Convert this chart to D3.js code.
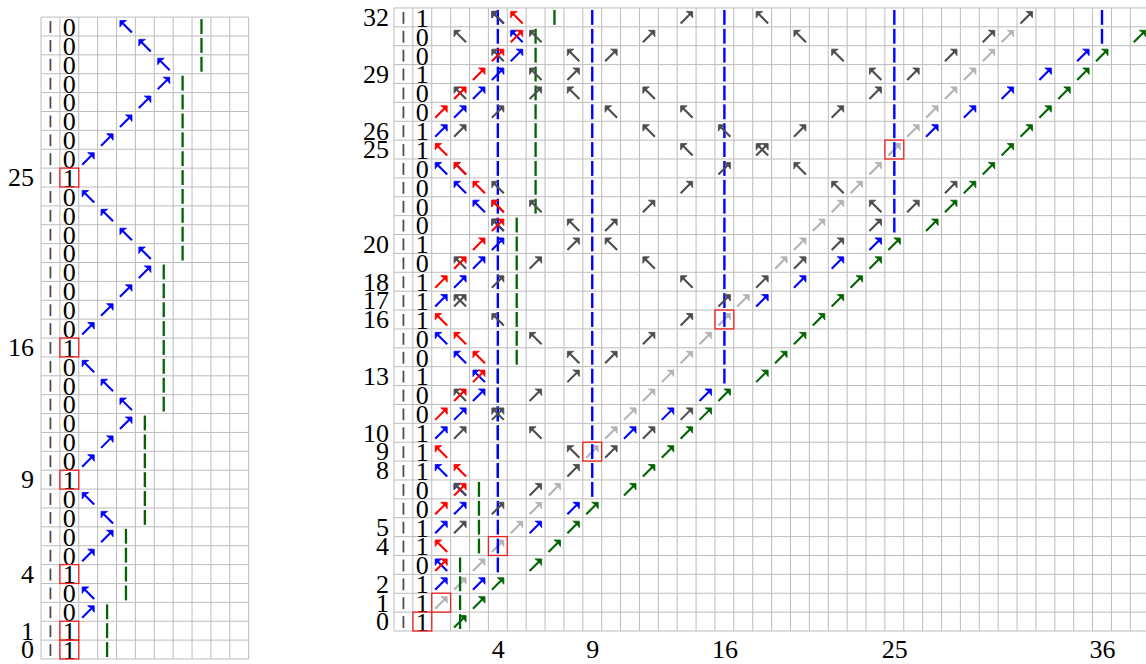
<!DOCTYPE html>
<html><head><meta charset="utf-8">
<script src="https://cdn.jsdelivr.net/npm/d3@7"></script>
<style>
html,body{margin:0;padding:0;background:#fff;overflow:hidden}
svg text{font-family:"Liberation Serif","DejaVu Serif",serif;}
</style>
</head><body><svg id="chart" width="1146" height="664"></svg>
<script>
// ---------------- DATA ----------------
// Left panel (rows 0..33), digit column = 0, marker column = -1
const leftDigits = [1,1,0,0,1, 0,0,0,0,1, 0,0,0,0,0, 0,1,0,0,0, 0,0,0,0,0, 1,0,0,0,0, 0,0,0,0];
const leftRowLabels = [0, 1, 4, 9, 16, 25];
const leftBoxes = [[0,0],[1,0],[4,0],[9,0],[16,0],[25,0]];
const leftArrows = [
  [2,1,"ur","b"],[3,1,"ul","b"],[5,1,"ur","b"],[6,2,"ur","b"],[7,2,"ul","b"],[8,1,"ul","b"],
  [10,1,"ur","b"],[11,2,"ur","b"],[12,3,"ur","b"],[13,3,"ul","b"],[14,2,"ul","b"],[15,1,"ul","b"],
  [17,1,"ur","b"],[18,2,"ur","b"],[19,3,"ur","b"],[20,4,"ur","b"],[21,4,"ul","b"],[22,3,"ul","b"],
  [23,2,"ul","b"],[24,1,"ul","b"],[26,1,"ur","b"],[27,2,"ur","b"],[28,3,"ur","b"],[29,4,"ur","b"],
  [30,5,"ur","b"],[31,5,"ul","b"],[32,4,"ul","b"],[33,3,"ul","b"]
];
const leftGreenRuns = [[2,0,2],[3,3,6],[4,7,12],[5,13,20],[6,21,30],[7,31,33]]; // [col, fromRow, toRow]
const leftBlueRuns = [];

// Right panel (rows 0..32)
const rightDigits = [1,1,1,0,1,1,0,0,1,1,1,0,0,1,0,0,1,1,1,0,1,0,0,0,0,1,1,0,0,1,0,0,1];
const rightRowLabels = [0,1,2,4,5,8,9,10,13,16,17,18,20,25,26,29,32];
const rightColLabels = [4, 9, 16, 25, 36];
const rightBoxes = [[0,0],[1,1],[4,4],[9,9],[16,16],[25,25]];
const rightBlueRuns = [[4,3,32],[9,7,32],[16,13,32],[25,21,32],[36,31,32]];
const rightGreenRuns = [[2,0,3],[3,4,7],[4,8,13],[5,14,21],[6,22,31],[7,32,32]];
const rightArrows = [
  [0,2,"ur","g"],
  [1,1,"ur","l"],[1,3,"ur","g"],
  [2,1,"ur","b"],[2,2,"ur","l"],[2,3,"ur","b"],[2,4,"ur","g"],
  [3,1,"ul","b"],[3,1,"ur","r"],[3,3,"ur","l"],[3,6,"ur","g"],
  [4,1,"ul","r"],[4,4,"ur","l"],[4,7,"ur","g"],
  [5,1,"ur","b"],[5,2,"ur","k"],[5,5,"ur","l"],[5,6,"ur","b"],[5,8,"ur","g"],
  [6,1,"ur","r"],[6,2,"ur","b"],[6,4,"ur","k"],[6,6,"ur","l"],[6,8,"ur","b"],[6,9,"ur","g"],
  [7,2,"ul","b"],[7,2,"ul","k"],[7,2,"ur","r"],[7,6,"ur","k"],[7,7,"ur","l"],[7,11,"ur","g"],
  [8,1,"ul","b"],[8,2,"ul","r"],[8,8,"ur","k"],[8,12,"ur","g"],
  [9,1,"ul","r"],[9,8,"ul","k"],[9,9,"ur","l"],[9,10,"ur","k"],[9,13,"ur","g"],
  [10,1,"ur","b"],[10,2,"ur","k"],[10,6,"ul","k"],[10,10,"ur","l"],[10,11,"ur","b"],[10,12,"ur","k"],[10,14,"ur","g"],
  [11,1,"ur","r"],[11,2,"ur","b"],[11,4,"ul","k"],[11,4,"ur","k"],[11,11,"ur","l"],[11,13,"ur","b"],[11,14,"ur","k"],[11,15,"ur","g"],
  [12,2,"ul","k"],[12,2,"ur","r"],[12,3,"ur","b"],[12,6,"ur","k"],[12,12,"ur","l"],[12,15,"ur","b"],[12,16,"ur","g"],
  [13,3,"ul","b"],[13,3,"ur","r"],[13,8,"ur","k"],[13,13,"ur","l"],[13,18,"ur","g"],
  [14,2,"ul","b"],[14,3,"ul","r"],[14,8,"ul","k"],[14,10,"ur","k"],[14,14,"ur","l"],[14,19,"ur","g"],
  [15,1,"ul","b"],[15,2,"ul","r"],[15,6,"ul","k"],[15,12,"ur","k"],[15,15,"ur","l"],[15,20,"ur","g"],
  [16,1,"ul","r"],[16,4,"ul","k"],[16,14,"ur","k"],[16,16,"ur","l"],[16,21,"ur","g"],
  [17,1,"ur","b"],[17,2,"ul","k"],[17,2,"ur","k"],[17,16,"ur","k"],[17,17,"ur","l"],[17,18,"ur","b"],[17,22,"ur","g"],
  [18,1,"ur","r"],[18,2,"ur","b"],[18,4,"ur","k"],[18,14,"ul","k"],[18,18,"ur","k"],[18,20,"ur","b"],[18,23,"ur","g"],
  [19,2,"ul","k"],[19,2,"ur","r"],[19,3,"ur","b"],[19,6,"ur","k"],[19,12,"ul","k"],[19,19,"ur","l"],[19,20,"ur","k"],[19,22,"ur","b"],[19,24,"ur","g"],
  [20,3,"ur","r"],[20,4,"ur","b"],[20,8,"ur","k"],[20,10,"ul","k"],[20,20,"ur","l"],[20,22,"ur","k"],[20,24,"ur","b"],[20,25,"ur","g"],
  [21,4,"ul","b"],[21,4,"ul","k"],[21,4,"ur","r"],[21,8,"ul","k"],[21,10,"ur","k"],[21,21,"ur","l"],[21,24,"ur","k"],[21,27,"ur","g"],
  [22,3,"ul","b"],[22,4,"ul","k"],[22,4,"ul","r"],[22,6,"ul","k"],[22,12,"ur","k"],[22,22,"ur","l"],[22,24,"ul","k"],[22,26,"ur","k"],[22,28,"ur","g"],
  [23,2,"ul","b"],[23,3,"ul","r"],[23,4,"ul","k"],[23,14,"ur","k"],[23,22,"ul","k"],[23,23,"ur","l"],[23,28,"ur","k"],[23,29,"ur","g"],
  [24,1,"ul","b"],[24,2,"ul","k"],[24,2,"ul","r"],[24,16,"ur","k"],[24,20,"ul","k"],[24,24,"ur","l"],[24,30,"ur","g"],
  [25,1,"ul","r"],[25,14,"ul","k"],[25,18,"ul","k"],[25,18,"ur","k"],[25,25,"ur","l"],[25,31,"ur","g"],
  [26,1,"ur","b"],[26,2,"ur","k"],[26,12,"ul","k"],[26,16,"ul","k"],[26,20,"ur","k"],[26,26,"ur","l"],[26,27,"ur","b"],[26,32,"ur","g"],
  [27,1,"ur","r"],[27,2,"ur","b"],[27,4,"ur","k"],[27,10,"ul","k"],[27,14,"ul","k"],[27,22,"ur","k"],[27,27,"ur","l"],[27,29,"ur","b"],[27,33,"ur","g"],
  [28,2,"ul","k"],[28,2,"ur","r"],[28,3,"ur","b"],[28,6,"ur","k"],[28,8,"ul","k"],[28,12,"ul","k"],[28,24,"ur","k"],[28,28,"ur","l"],[28,31,"ur","b"],[28,34,"ur","g"],
  [29,3,"ur","r"],[29,4,"ur","b"],[29,6,"ul","k"],[29,8,"ur","k"],[29,24,"ul","k"],[29,26,"ur","k"],[29,29,"ur","l"],[29,33,"ur","b"],[29,35,"ur","g"],
  [30,4,"ul","k"],[30,4,"ur","r"],[30,5,"ur","b"],[30,8,"ul","k"],[30,10,"ur","k"],[30,22,"ul","k"],[30,28,"ur","k"],[30,30,"ur","l"],[30,35,"ur","b"],[30,36,"ur","g"],
  [31,2,"ul","k"],[31,5,"ul","b"],[31,5,"ur","r"],[31,6,"ul","k"],[31,12,"ur","k"],[31,20,"ul","k"],[31,30,"ur","k"],[31,31,"ur","l"],[31,38,"ur","g"],
  [32,4,"ul","b"],[32,4,"ul","k"],[32,5,"ul","r"],[32,14,"ur","k"],[32,18,"ul","k"],[32,32,"ur","k"]
];

// ---------------- STYLE ----------------
const W = 18.88;
const colors = { r: "#ff0000", b: "#0000ff", k: "#4d4d4d", l: "#b3b3b3", g: "#006400" };
const layerOrder = ["l", "b", "k", "r", "g"];
const FONT = '"Liberation Serif","DejaVu Serif",serif';
const svg = d3.select("#chart");

// shaft + notched filled head
function arrowShaft(cx, cy, dir) {
  const s = 6;
  return dir === "ur"
    ? `M${cx - s},${cy + s}L${cx + s - 2},${cy - s + 2}`
    : `M${cx + s},${cy + s}L${cx - s + 2},${cy - s + 2}`;
}
function arrowHead(cx, cy, dir) {
  const s = 6, h = 6.5, n = 0.42 * h;
  if (dir === "ur") {
    const tx = cx + s, ty = cy - s;
    return `M${tx},${ty}L${tx - h},${ty}L${tx - n},${ty + n}L${tx},${ty + h}Z`;
  }
  const tx = cx - s, ty = cy - s;
  return `M${tx},${ty}L${tx + h},${ty}L${tx + n},${ty + n}L${tx},${ty + h}Z`;
}

function drawPanel(cfg) {
  const g = svg.append("g");
  const nCols = cfg.colMax - cfg.colMin + 1;
  const nRows = cfg.digits.length;
  const x = d3.scaleLinear().domain([cfg.colMin - 0.5, cfg.colMax + 0.5]).range([cfg.left, cfg.left + nCols * W]);
  const y = d3.scaleLinear().domain([-0.5, nRows - 0.5]).range([cfg.bottom, cfg.bottom - nRows * W]);

  // grid
  const vl = d3.range(cfg.colMin - 0.5, cfg.colMax + 0.51, 1);
  const hl = d3.range(-0.5, nRows - 0.49, 1);
  g.append("g").selectAll("line").data(vl).join("line")
    .attr("x1", d => x(d)).attr("x2", d => x(d))
    .attr("y1", y(-0.5)).attr("y2", y(nRows - 0.5))
    .attr("stroke", "#bdbdbd").attr("stroke-width", 1);
  g.append("g").selectAll("line").data(hl).join("line")
    .attr("y1", d => y(d)).attr("y2", d => y(d))
    .attr("x1", x(cfg.colMin - 0.5)).attr("x2", x(cfg.colMax + 0.5))
    .attr("stroke", "#bdbdbd").attr("stroke-width", 1);

  // marker column (-1)
  g.append("g").selectAll("line").data(cfg.digits.map((d, i) => i)).join("line")
    .attr("x1", x(-1)).attr("x2", x(-1))
    .attr("y1", r => y(r) - W / 2 + 4).attr("y2", r => y(r) + W / 2 - 3)
    .attr("stroke", "#4d4d4d").attr("stroke-width", 1.8);

  const arrowLayer = k => {
    const lg = g.append("g");
    const data = cfg.arrows.filter(a => a[3] === k);
    lg.selectAll("path.s").data(data).join("path").attr("class", "s")
      .attr("d", a => arrowShaft(x(a[1]), y(a[0]), a[2]))
      .attr("fill", "none").attr("stroke", colors[k]).attr("stroke-width", 2.1);
    lg.selectAll("path.h").data(data).join("path").attr("class", "h")
      .attr("d", a => arrowHead(x(a[1]), y(a[0]), a[2]))
      .attr("fill", colors[k]).attr("stroke", colors[k]).attr("stroke-width", 0.8)
      .attr("stroke-linejoin", "miter");
  };
  arrowLayer("l");

  // dashed vertical runs
  const expand = runs => runs.flatMap(([c, a, b]) => d3.range(a, b + 1).map(r => [r, c]));
  const dashLayer = (runs, color, w) => g.append("g").selectAll("line").data(expand(runs)).join("line")
    .attr("x1", d => x(d[1])).attr("x2", d => x(d[1]))
    .attr("y1", d => y(d[0]) - W / 2 + 2).attr("y2", d => y(d[0]) + W / 2 - 2)
    .attr("stroke", color).attr("stroke-width", w);
  dashLayer(cfg.greenRuns, colors.g, 2.3);
  dashLayer(cfg.blueRuns, colors.b, 2.4);

  layerOrder.slice(1).forEach(arrowLayer);

  // digits
  g.append("g").selectAll("text").data(cfg.digits).join("text")
    .attr("x", x(0)).attr("y", (d, i) => y(i)).attr("dy", "0.36em")
    .attr("text-anchor", "middle")
    .style("font-family", FONT).style("font-size", "26px")
    .attr("fill", "#000").text(d => d);

  // red boxes
  g.append("g").selectAll("rect").data(cfg.boxes).join("rect")
    .attr("x", d => x(d[1] - 0.5)).attr("y", d => y(d[0] + 0.5))
    .attr("width", W).attr("height", W)
    .attr("fill", "none").attr("stroke", "#ee2222").attr("stroke-width", 1.3);

  // row labels
  const ay = g.append("g").attr("transform", `translate(${x(cfg.colMin - 0.5)},0)`)
    .call(d3.axisLeft(y).tickValues(cfg.rowLabels).tickSize(0).tickPadding(cfg.labelPad).tickFormat(d3.format("d")));
  ay.select(".domain").remove();
  ay.selectAll("text").style("font-family", FONT).style("font-size", "26px").attr("fill", "#000");

  if (cfg.colLabels) {
    const ax = g.append("g").attr("transform", `translate(0,${cfg.bottom})`)
      .call(d3.axisBottom(x).tickValues(cfg.colLabels).tickSize(0).tickPadding(8.5).tickFormat(d3.format("d")));
    ax.select(".domain").remove();
    ax.selectAll("text").style("font-family", FONT).style("font-size", "26px").attr("fill", "#000");
  }
}

drawPanel({
  digits: leftDigits, colMin: -1, colMax: 9, left: 41, bottom: 659,
  arrows: leftArrows, greenRuns: leftGreenRuns, blueRuns: leftBlueRuns,
  boxes: leftBoxes, rowLabels: leftRowLabels, labelPad: 7
});
drawPanel({
  digits: rightDigits, colMin: -1, colMax: 38, left: 394, bottom: 631,
  arrows: rightArrows, greenRuns: rightGreenRuns, blueRuns: rightBlueRuns,
  boxes: rightBoxes, rowLabels: rightRowLabels, colLabels: rightColLabels, labelPad: 5
});
</script>
</body></html>
